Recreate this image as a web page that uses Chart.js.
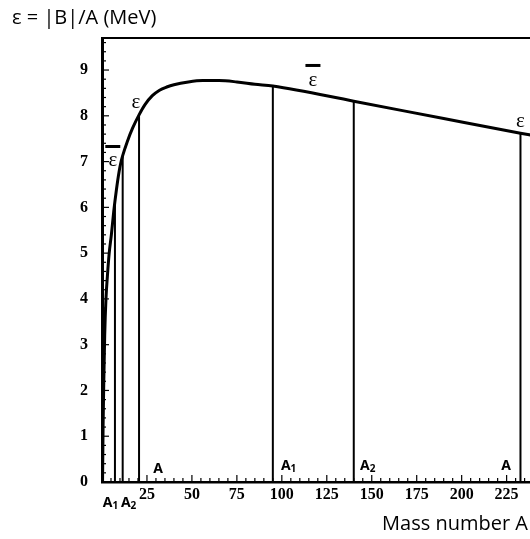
<!DOCTYPE html>
<html>
<head>
<meta charset="utf-8">
<script src="https://cdn.jsdelivr.net/npm/chart.js@4.4.1/dist/chart.umd.min.js"></script>
<style>
  html, body { margin: 0; padding: 0; background: #fff; }
  #wrap { width: 530px; height: 539px; position: relative; }
</style>
</head>
<body>
<div id="wrap"><canvas id="bindingChart" width="530" height="539"></canvas></div>
<script>
// binding energy per nucleon curve
const curveA   = [0.3, 0.6, 1.0, 1.5, 2.2, 3.0, 4.0, 5.2, 6.5, 8.0, 9.5, 10.5, 11.5, 14, 17, 20.6, 24, 28, 32, 36, 40, 48, 56, 65, 75, 85, 95, 140, 190, 232.7, 240];
const curveEps = [0, 1.2, 2.2, 3.2, 4.0, 4.5, 5.0, 5.4, 5.9, 6.38, 6.78, 6.98, 7.13, 7.43, 7.73, 8.02, 8.25, 8.44, 8.56, 8.63, 8.68, 8.74, 8.77, 8.77, 8.74, 8.69, 8.65, 8.32, 7.94, 7.62, 7.57];

// vertical lines A1, A2, A (light side) and A1, A2, A (heavy side)
const dropA   = [7.2, 11.5, 20.6, 95, 140, 232.7];
const dropEps = [6.1, 7.13, 8.02, 8.65, 8.32, 7.62];

const xTickLabels = [25, 50, 75, 100, 125, 150, 175, 200, 225];
const yTickLabels = [0, 1, 2, 3, 4, 5, 6, 7, 8, 9];

const X_MAX = 238;
const Y_MAX = 9.7;

const datasets = [{
    data: curveA.map((a, i) => ({ x: a, y: curveEps[i] })),
    showLine: true,
    borderColor: '#000',
    borderWidth: 3,
    pointRadius: 0,
    cubicInterpolationMode: 'monotone',
    clip: false
}];
dropA.forEach((a, i) => {
    datasets.push({
        data: [{ x: a, y: 0 }, { x: a, y: dropEps[i] }],
        showLine: true,
        borderColor: '#000',
        borderWidth: 2,
        pointRadius: 0
    });
});

// inner ticks, top frame and text labels
const decorations = {
    id: 'decorations',
    afterDatasetsDraw(chart) {
        const c = chart.ctx;
        const xs = chart.scales.x, ys = chart.scales.y;
        const area = chart.chartArea;
        c.save();
        c.strokeStyle = '#000';

        // top frame
        c.lineWidth = 2;
        c.beginPath();
        c.moveTo(area.left, area.top);
        c.lineTo(area.right, area.top);
        c.stroke();

        // x ticks
        c.lineWidth = 1.2;
        for (let v = 5; v <= X_MAX; v += 5) {
            const px = xs.getPixelForValue(v);
            const len = v % 25 === 0 ? 7 : 4;
            c.beginPath();
            c.moveTo(px, area.bottom);
            c.lineTo(px, area.bottom - len);
            c.stroke();
        }
        // y ticks
        for (let k = 1; k * 0.2 <= Y_MAX; k++) {
            const v = k * 0.2;
            const py = ys.getPixelForValue(v);
            const len = k % 5 === 0 ? 7 : 4;
            c.beginPath();
            c.moveTo(area.left, py);
            c.lineTo(area.left + len, py);
            c.stroke();
        }

        // epsilon labels
        c.fillStyle = '#000';
        c.textAlign = 'center';
        c.textBaseline = 'middle';
        c.font = '21px "Liberation Serif"';
        const eps = (a, e) => c.fillText('ε', xs.getPixelForValue(a), ys.getPixelForValue(e));
        const bar = (a, e) => {
            const px = xs.getPixelForValue(a), py = ys.getPixelForValue(e);
            c.lineWidth = 3;
            c.beginPath();
            c.moveTo(px - 7.5, py);
            c.lineTo(px + 7.5, py);
            c.stroke();
        };
        eps(18.9, 8.3);
        eps(6.0, 7.03);  bar(6.0, 7.33);
        eps(117.3, 8.77); bar(117.3, 9.1);
        eps(232.7, 7.88);

        // A labels
        const aLabel = (a, e, sub) => {
            const px = xs.getPixelForValue(a), py = ys.getPixelForValue(e);
            c.textAlign = 'left';
            c.font = 'bold 14px "Noto Sans"';
            c.fillText('A', px, py);
            if (sub) {
                const w = c.measureText('A').width;
                c.font = 'bold 10px "Noto Sans"';
                c.fillText(sub, px + w, py + 4);
            }
        };
        aLabel(28.5, 0.28);
        aLabel(99.5, 0.36, '1');
        aLabel(143.5, 0.36, '2');
        aLabel(222, 0.36);
        aLabel(0.4, -0.45, '1');
        aLabel(10.5, -0.45, '2');

        // axis titles
        c.font = '20px "Open Sans"';
        c.textAlign = 'left';
        c.fillText('ε = |B|/A (MeV)', 12, 18);
        c.font = '20px "Open Sans"';
        c.textAlign = 'right';
        c.fillText('Mass number A', 528, 524);
        c.restore();
    }
};

const ctx = document.getElementById('bindingChart').getContext('2d');
const chart = new Chart(ctx, {
    type: 'scatter',
    data: { datasets: datasets },
    options: {
        responsive: false,
        animation: false,
        layout: { padding: { top: 38, right: 0, left: 0, bottom: 0 } },
        plugins: {
            legend: { display: false },
            tooltip: { enabled: false }
        },
        scales: {
            x: {
                type: 'linear',
                min: 0,
                max: X_MAX,
                afterFit: function(scale) { scale.height = 57; },
                afterBuildTicks: function(scale) {
                    scale.ticks = xTickLabels.map(v => ({ value: v }));
                },
                grid: { display: false, drawTicks: false },
                border: { display: true, color: '#000', width: 2.5 },
                ticks: {
                    color: '#000',
                    padding: 3,
                    maxRotation: 0,
                    autoSkip: false,
                    font: { family: 'Liberation Serif', size: 16, weight: 'bold' }
                }
            },
            y: {
                type: 'linear',
                min: 0,
                max: Y_MAX,
                afterFit: function(scale) { scale.width = 102; },
                afterBuildTicks: function(scale) {
                    scale.ticks = yTickLabels.map(v => ({ value: v }));
                },
                grid: { display: false, drawTicks: false },
                border: { display: true, color: '#000', width: 3 },
                ticks: {
                    color: '#000',
                    padding: 14,
                    font: { family: 'Liberation Serif', size: 16, weight: 'bold' }
                }
            }
        }
    },
    plugins: [decorations]
});
</script>
</body>
</html>
